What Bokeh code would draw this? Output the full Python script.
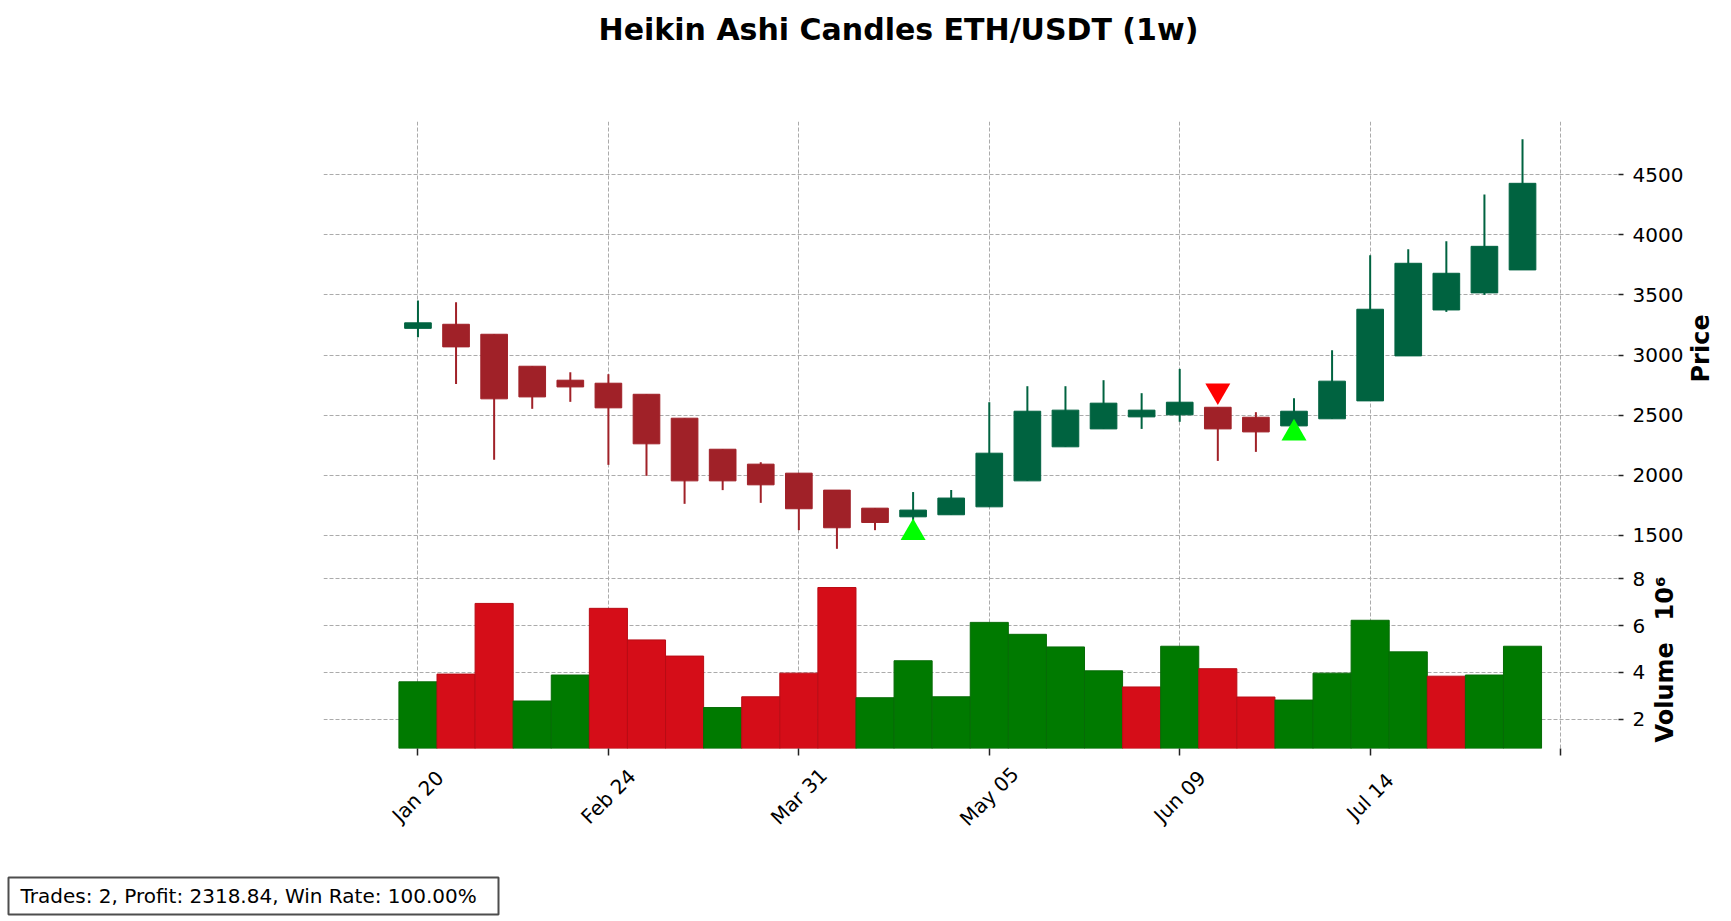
import math
from bokeh.plotting import figure
from bokeh.models import Range1d, LinearAxis, FixedTicker, Grid, ColumnDataSource
from bokeh.layouts import column
from bokeh.embed import file_html
from bokeh.resources import INLINE
from bokeh.core.properties import value

# ---------------- data ----------------
title_text = "Heikin Ashi Candles ETH/USDT (1w)"
summary_text = "Trades: 2, Profit: 2318.84, Win Rate: 100.00%"
price_label = "Price"
volume_label = "Volume"
volume_exp_label = "10\u2076"

dates = ["Jan 20", "Jan 27", "Feb 03", "Feb 10", "Feb 17", "Feb 24", "Mar 03", "Mar 10",
         "Mar 17", "Mar 24", "Mar 31", "Apr 07", "Apr 14", "Apr 21", "Apr 28", "May 05",
         "May 12", "May 19", "May 26", "Jun 02", "Jun 09", "Jun 16", "Jun 23", "Jun 30",
         "Jul 07", "Jul 14", "Jul 21", "Jul 28", "Aug 04", "Aug 11"]

ha_open = [3222, 3256, 3173, 2907, 2791, 2766, 2674, 2475, 2217, 2093, 2018, 1877, 1727, 1655, 1672,
           1738, 1954, 2237, 2386, 2486, 2503, 2566, 2483, 2411, 2470, 2619, 2993, 3375, 3517, 3708]
ha_high = [3453, 3439, 3173, 2907, 2857, 2841, 2674, 2475, 2217, 2109, 2018, 1877, 1727, 1861, 1878,
           2608, 2741, 2741, 2791, 2683, 2885, 2566, 2525, 2641, 3040, 3830, 3879, 3946, 4334, 4794]
ha_low = [3148, 2760, 2129, 2553, 2611, 2087, 1996, 1763, 1877, 1771, 1544, 1389, 1544, 1550, 1672,
          1738, 1954, 2237, 2386, 2386, 2445, 2120, 2195, 2375, 2470, 2619, 2993, 3359, 3500, 3708]
ha_close = [3268, 3068, 2636, 2652, 2735, 2561, 2262, 1954, 1954, 1921, 1722, 1564, 1608, 1711, 1811,
            2184, 2533, 2542, 2600, 2542, 2608, 2386, 2361, 2533, 2783, 3381, 3763, 3680, 3904, 4428]

volume_m = [3.60, 3.93, 6.95, 2.78, 3.89, 6.74, 5.39, 4.70, 2.50, 2.96, 3.97, 7.63, 2.92, 4.50, 2.96,
            6.14, 5.63, 5.09, 4.07, 3.38, 5.12, 4.16, 2.95, 2.82, 3.97, 6.23, 4.88, 3.84, 3.89, 5.12]
volume_up = [1, 0, 0, 1, 1, 0, 0, 0, 1, 0, 0, 0, 1, 1, 1, 1, 1, 1, 1, 0, 1, 0, 0, 1, 1, 1, 1, 0, 1, 1]

buy_idx = [13, 23]
buy_price = [1522, 2350]
sell_idx = [21]
sell_price = [2704]

x_tick_idx = [0, 5, 10, 15, 20, 25, 30]
price_ticks = [1500, 2000, 2500, 3000, 3500, 4000, 4500]
volume_ticks = [2, 4, 6, 8]

# ---------------- style / layout (page pixels, origin top-left) ----------------
FONT = "DejaVu Sans"
UP, DOWN = "#006340", "#A02128"
VUP, VDOWN = "#007a00", "#d50d18"
VUP_E, VDOWN_E = "#066b06", "#b90c15"
GRID = "#ababab"

W = 1731
FRAME_L, FRAME_R = 323, 1618
LEFT, RIGHT = FRAME_L, W - FRAME_R
HEAD_H, PRICE_H, VOL_FRAME_H, VOL_BOTTOM, STRIP_H, FOOT_H = 121, 448, 179, 12, 100, 60
PRICE_TOP = HEAD_H
VOL_TOP = PRICE_TOP + PRICE_H
STRIP_TOP = VOL_TOP + VOL_FRAME_H + VOL_BOTTOM
FOOT_TOP = STRIP_TOP + STRIP_H

xr = Range1d(-2.48, 31.52)


def make_fig(h, y_range, x_range=xr, bottom=0, left=LEFT, right=RIGHT):
    p = figure(width=W, height=h, x_range=x_range, y_range=y_range,
               x_axis_type=None, y_axis_type=None,
               output_backend="svg", toolbar_location=None,
               min_border_left=left, min_border_right=right,
               min_border_top=0, min_border_bottom=bottom)
    p.outline_line_color = None
    p.background_fill_color = "white"
    p.border_fill_color = "white"
    return p


def style_axis(ax):
    ax.axis_line_color = None
    ax.major_tick_in = 0
    ax.major_tick_out = 5
    ax.major_tick_line_color = "#222222"
    ax.major_tick_line_width = 1.5
    ax.minor_tick_line_color = None
    ax.major_label_text_font = FONT
    ax.major_label_text_font_size = "20px"
    ax.major_label_text_color = "black"
    ax.major_label_standoff = 9


def add_grids(p, yticks):
    p.add_layout(Grid(dimension=0, ticker=FixedTicker(ticks=x_tick_idx),
                      grid_line_color=GRID, grid_line_dash="4 2", grid_line_width=1))
    p.add_layout(Grid(dimension=1, ticker=FixedTicker(ticks=yticks),
                      grid_line_color=GRID, grid_line_dash="4 2", grid_line_width=1))


def add_side_label(p, top_px, h_px, labels, standoff):
    """rotated axis title, drawn as the tick label of an outer right axis (page-pixel scale)"""
    p.extra_y_ranges = {"px": Range1d(top_px + h_px, top_px)}
    ax = LinearAxis(y_range_name="px", ticker=FixedTicker(ticks=list(labels.keys())),
                    major_label_overrides=labels)
    ax.axis_line_color = None
    ax.major_tick_line_color = None
    ax.major_tick_in = 0
    ax.major_tick_out = 0
    ax.minor_tick_line_color = None
    ax.major_label_orientation = math.pi / 2
    ax.major_label_text_font = FONT
    ax.major_label_text_font_size = "24px"
    ax.major_label_text_font_style = "bold"
    ax.major_label_text_color = "black"
    ax.major_label_standoff = standoff
    p.add_layout(ax, "right")


# ---------------- header (title), page-pixel coordinates ----------------
head = make_fig(HEAD_H, Range1d(HEAD_H, 0), x_range=Range1d(FRAME_L, FRAME_R))
head.text(x=[898], y=[28.6], text=[title_text], text_align="center",
          text_baseline="middle", text_font=value(FONT), text_font_style="bold",
          text_font_size="30px", text_color="black")

# ---------------- price panel ----------------
idx = list(range(len(dates)))
cs = ColumnDataSource(dict(
    x=idx,
    hi=ha_high, lo=ha_low,
    top=[max(o, c) for o, c in zip(ha_open, ha_close)],
    bot=[min(o, c) for o, c in zip(ha_open, ha_close)],
    col=[UP if c >= o else DOWN for o, c in zip(ha_open, ha_close)],
))

price = make_fig(PRICE_H, Range1d(1217, 4942))
add_grids(price, price_ticks)
pax = LinearAxis(ticker=FixedTicker(ticks=price_ticks))
style_axis(pax)
price.add_layout(pax, "right")
add_side_label(price, PRICE_TOP, PRICE_H, {382: price_label}, 14)

price.segment(x0="x", y0="lo", x1="x", y1="hi", line_color="col", line_width=2, source=cs)
price.vbar(x="x", width=0.7, top="top", bottom="bot", fill_color="col", line_color="col",
           line_width=1, source=cs)
price.scatter(x=buy_idx, y=buy_price, marker="triangle", size=25,
              fill_color="#00ff00", line_color=None)
price.scatter(x=sell_idx, y=sell_price, marker="inverted_triangle", size=25,
              fill_color="#ff0000", line_color=None)

# ---------------- volume panel ----------------
vs = ColumnDataSource(dict(
    x=idx, v=volume_m,
    fc=[VUP if u else VDOWN for u in volume_up],
    lc=[VUP_E if u else VDOWN_E for u in volume_up],
))
vol = make_fig(VOL_FRAME_H + VOL_BOTTOM, Range1d(0.75, 8.4), bottom=VOL_BOTTOM)
add_grids(vol, volume_ticks)
vax = LinearAxis(ticker=FixedTicker(ticks=volume_ticks))
style_axis(vax)
vol.add_layout(vax, "right")
add_side_label(vol, VOL_TOP, VOL_FRAME_H, {742: volume_label, 620: volume_exp_label}, 16)

xax = LinearAxis(ticker=FixedTicker(ticks=x_tick_idx),
                 major_label_overrides={i: "" for i in x_tick_idx})
style_axis(xax)
xax.major_tick_out = 7
xax.major_label_standoff = 0
xax.major_label_text_font_size = "1px"
vol.add_layout(xax, "below")

vol.vbar(x="x", width=1.0, top="v", bottom=0, fill_color="fc", line_color="lc",
         line_width=1, source=vs)

# ---------------- date labels strip (shares the x scale) ----------------
strip = make_fig(STRIP_H, Range1d(STRIP_TOP + STRIP_H, STRIP_TOP))
lab_idx = [i for i in x_tick_idx if i < len(dates)]
strip.text(x=lab_idx, y=[796] * len(lab_idx), text=[dates[i] for i in lab_idx],
           angle=math.pi / 4, text_align="center", text_baseline="middle",
           text_font=value(FONT), text_font_size="20px", text_color="black")

# ---------------- footer (summary box), page-pixel coordinates ----------------
foot = make_fig(FOOT_H, Range1d(FOOT_TOP + FOOT_H, FOOT_TOP), x_range=Range1d(0, W),
                left=0, right=0)
if "frame_align" in foot.properties():
    foot.frame_align = False
foot.quad(left=[8], right=[498], top=[877], bottom=[914], fill_color="white",
          line_color="#4d4d4d", line_width=2)
foot.text(x=[20], y=[895.8], text=[summary_text], text_align="left",
          text_baseline="middle", text_font=value(FONT), text_font_size="20px",
          text_color="black")

layout = column(head, price, vol, strip, foot, spacing=0)
open("out.html", "w").write(file_html(layout, INLINE, title="Heikin Ashi"))
